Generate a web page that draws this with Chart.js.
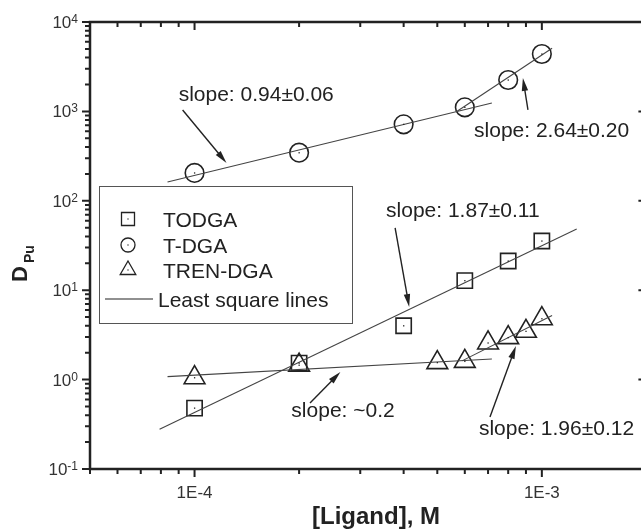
<!DOCTYPE html>
<html>
<head>
<meta charset="utf-8">
<script src="https://cdn.jsdelivr.net/npm/chart.js@4/dist/chart.umd.min.js"></script>
<style>
  html, body { margin: 0; padding: 0; background: #fff; overflow: hidden; }
  canvas { display: block; }
</style>
</head>
<body>
<canvas id="chart" width="660" height="532"></canvas>
<script>
// ligand concentration, M
const concDGA = [1e-4, 2e-4, 4e-4, 6e-4, 8e-4, 1e-3];
const concTren = [1e-4, 2e-4, 5e-4, 6e-4, 7e-4, 8e-4, 9e-4, 1e-3];

// D(Pu)
const dTodga = [0.48, 1.53, 4.0, 12.8, 21.2, 35.5];
const dTdga = [205, 345, 717, 1111, 2245, 4385];
const dTren = [1.05, 1.45, 1.55, 1.6, 2.57, 2.95, 3.47, 4.8];

// least square lines, end points [x1, x2] / [y1, y2]
const fitTdgaLowX = [8.36e-5, 7.18e-4];
const fitTdgaLowY = [162, 1242];
const fitTdgaHighX = [5.66e-4, 1.07e-3];
const fitTdgaHighY = [984, 5083];
const fitTodgaX = [7.93e-5, 1.26e-3];
const fitTodgaY = [0.278, 48.4];
const fitTrenLowX = [8.36e-5, 7.18e-4];
const fitTrenLowY = [1.08, 1.70];
const fitTrenHighX = [5.89e-4, 1.07e-3];
const fitTrenHighY = [1.62, 5.2];

// axes
const xMin = 5e-5, xMax = 2e-3;
const yMin = 0.1, yMax = 1e4;
const xTickLabels = [[1e-4, '1E-4'], [1e-3, '1E-3']];
const yDecades = [-1, 0, 1, 2, 3, 4];

// legend
const legendNames = ['TODGA', 'T-DGA', 'TREN-DGA'];
const legendStyles = ['rect', 'circle', 'triangle'];
const legendLineName = 'Least square lines';

// slope notes (text start, arrow tail, arrow tip) in data units
const notes = [
  { text: 'slope: 0.94±0.06', at: [9.0e-5, 1306], tail: [9.24e-5, 1038], tip: [1.236e-4, 265] },
  { text: 'slope: 2.64±0.20', at: [6.38e-4, 518], tail: [9.12e-4, 1038], tip: [8.82e-4, 2365] },
  { text: 'slope: 1.87±0.11', at: [3.56e-4, 65.9], tail: [3.78e-4, 49.7], tip: [4.15e-4, 6.49] },
  { text: 'slope: ~0.2', at: [1.90e-4, 0.382], tail: [2.15e-4, 0.547], tip: [2.63e-4, 1.216] },
  { text: 'slope: 1.96±0.12', at: [6.59e-4, 0.24], tail: [7.09e-4, 0.382], tip: [8.42e-4, 2.38] }
];

const FONT = '"Liberation Sans", Arial, Helvetica, sans-serif';
const INK = '#222';

function pts(xs, ys) {
  return xs.map((x, i) => ({ x: x, y: ys[i] }));
}

function markerSet(label, xs, ys, style, radius) {
  return {
    label: label,
    data: pts(xs, ys),
    showLine: false,
    pointStyle: style,
    pointRadius: radius,
    pointBorderColor: INK,
    pointBorderWidth: 1.6,
    pointBackgroundColor: 'rgba(0,0,0,0)',
    marker: true
  };
}

function lineSet(xs, ys) {
  return {
    label: 'fit',
    data: pts(xs, ys),
    showLine: true,
    borderColor: '#444',
    borderWidth: 1.1,
    pointRadius: 0
  };
}

function drawMark(ctx, style, x, y, r) {
  ctx.beginPath();
  if (style === 'rect') {
    ctx.rect(x - r, y - r, 2 * r, 2 * r);
  } else if (style === 'circle') {
    ctx.arc(x, y, r, 0, Math.PI * 2);
  } else {
    ctx.moveTo(x, y - r);
    ctx.lineTo(x + 0.866 * r, y + 0.5 * r);
    ctx.lineTo(x - 0.866 * r, y + 0.5 * r);
    ctx.closePath();
  }
  ctx.stroke();
}

function logValues(min, max) {
  const out = [];
  for (let e = Math.floor(Math.log10(min)); e <= Math.ceil(Math.log10(max)); e++) {
    for (let k = 1; k <= 9; k++) {
      const v = k * Math.pow(10, e);
      if (v >= min * 0.999 && v <= max * 1.001) out.push({ v: v, major: k === 1 });
    }
  }
  return out;
}

function arrow(ctx, x1, y1, x2, y2) {
  const a = Math.atan2(y2 - y1, x2 - x1);
  const len = 13, half = 3.2;
  ctx.beginPath();
  ctx.moveTo(x1, y1);
  ctx.lineTo(x2 - Math.cos(a) * len * 0.8, y2 - Math.sin(a) * len * 0.8);
  ctx.stroke();
  ctx.beginPath();
  ctx.moveTo(x2, y2);
  ctx.lineTo(x2 - Math.cos(a) * len - Math.sin(a) * half, y2 - Math.sin(a) * len + Math.cos(a) * half);
  ctx.lineTo(x2 - Math.cos(a) * len + Math.sin(a) * half, y2 - Math.sin(a) * len - Math.cos(a) * half);
  ctx.closePath();
  ctx.fill();
}

const decor = {
  id: 'decor',
  afterDatasetsDraw(chart) {
    const ctx = chart.ctx;
    const xs = chart.scales.x, ys = chart.scales.y;
    const { left, right, top, bottom } = chart.chartArea;
    ctx.save();

    // dots in the middle of each marker
    ctx.fillStyle = INK;
    chart.data.datasets.forEach((ds, i) => {
      if (!ds.marker) return;
      chart.getDatasetMeta(i).data.forEach(p => {
        ctx.fillRect(p.x - 0.6, p.y - 0.6, 1.3, 1.3);
      });
    });

    // frame
    ctx.strokeStyle = INK;
    ctx.lineWidth = 2.5;
    ctx.strokeRect(left, top, right - left, bottom - top);

    // ticks
    ctx.lineWidth = 2;
    ctx.beginPath();
    logValues(yMin, yMax).forEach(t => {
      const y = ys.getPixelForValue(t.v);
      const len = t.major ? 8 : 5;
      ctx.moveTo(left - len, y); ctx.lineTo(left, y);
      ctx.moveTo(right, y); ctx.lineTo(right - len, y);
    });
    logValues(xMin, xMax).forEach(t => {
      const x = xs.getPixelForValue(t.v);
      const len = t.major ? 8 : 5;
      ctx.moveTo(x, bottom); ctx.lineTo(x, bottom + len);
      ctx.moveTo(x, top); ctx.lineTo(x, top + len);
    });
    ctx.stroke();

    // y tick labels 10^n
    ctx.fillStyle = '#333';
    ctx.textBaseline = 'alphabetic';
    yDecades.forEach(e => {
      const y = ys.getPixelForValue(Math.pow(10, e));
      ctx.font = '12px ' + FONT;
      ctx.textAlign = 'right';
      const exp = String(e);
      const ew = ctx.measureText(exp).width;
      ctx.fillText(exp, 78, y + 1);
      ctx.font = '17px ' + FONT;
      ctx.fillText('10', 78 - ew, y + 6);
    });

    // x tick labels
    ctx.font = '17px ' + FONT;
    ctx.textAlign = 'center';
    xTickLabels.forEach(([v, s]) => {
      ctx.fillText(s, xs.getPixelForValue(v), bottom + 29);
    });

    // axis titles
    ctx.fillStyle = INK;
    ctx.font = 'bold 24px ' + FONT;
    ctx.fillText('[Ligand], M', 376, 524);
    ctx.save();
    ctx.translate(27, 282);
    ctx.rotate(-Math.PI / 2);
    ctx.textAlign = 'left';
    ctx.font = 'bold 22px ' + FONT;
    ctx.fillText('D', 0, 0);
    const dw = ctx.measureText('D').width;
    ctx.font = 'bold 14px ' + FONT;
    ctx.fillText('Pu', dw + 3, 7);
    ctx.restore();

    // legend box
    ctx.fillStyle = '#fff';
    ctx.fillRect(99, 186, 253, 137);
    ctx.strokeStyle = '#555';
    ctx.lineWidth = 1;
    ctx.strokeRect(99.5, 186.5, 253, 137);
    ctx.strokeStyle = INK;
    ctx.lineWidth = 1.3;
    ctx.fillStyle = INK;
    ctx.font = '21px ' + FONT;
    ctx.textAlign = 'left';
    const legendY = [219, 245, 270];
    const legendR = [6.5, 7, 9];
    legendNames.forEach((n, i) => {
      drawMark(ctx, legendStyles[i], 128, legendY[i], legendR[i]);
      ctx.fillRect(127.4, legendY[i] - 0.6, 1.2, 1.2);
      ctx.fillText(n, 163, legendY[i] + 7.5);
    });
    ctx.lineWidth = 1.1;
    ctx.beginPath();
    ctx.moveTo(105, 299); ctx.lineTo(153, 299);
    ctx.stroke();
    ctx.fillText(legendLineName, 158, 299 + 7.5);

    // slope notes with arrows
    ctx.lineWidth = 1.4;
    notes.forEach(n => {
      ctx.fillText(n.text, xs.getPixelForValue(n.at[0]), ys.getPixelForValue(n.at[1]));
      arrow(ctx,
        xs.getPixelForValue(n.tail[0]), ys.getPixelForValue(n.tail[1]),
        xs.getPixelForValue(n.tip[0]), ys.getPixelForValue(n.tip[1]));
    });

    ctx.restore();
  }
};

new Chart(document.getElementById('chart'), {
  type: 'scatter',
  data: {
    datasets: [
      lineSet(fitTdgaLowX, fitTdgaLowY),
      lineSet(fitTdgaHighX, fitTdgaHighY),
      lineSet(fitTodgaX, fitTodgaY),
      lineSet(fitTrenLowX, fitTrenLowY),
      lineSet(fitTrenHighX, fitTrenHighY),
      markerSet('TODGA', concDGA, dTodga, 'rect', 10.8),
      markerSet('T-DGA', concDGA, dTdga, 'circle', 9.3),
      markerSet('TREN-DGA', concTren, dTren, 'triangle', 12)
    ]
  },
  options: {
    responsive: false,
    animation: false,
    devicePixelRatio: 1,
    layout: { padding: { left: 90, top: 22, right: 12, bottom: 63 } },
    plugins: {
      legend: { display: false },
      tooltip: { enabled: false }
    },
    scales: {
      x: { type: 'logarithmic', min: xMin, max: xMax, display: false },
      y: { type: 'logarithmic', min: yMin, max: yMax, display: false }
    }
  },
  plugins: [decor]
});
</script>
</body>
</html>
